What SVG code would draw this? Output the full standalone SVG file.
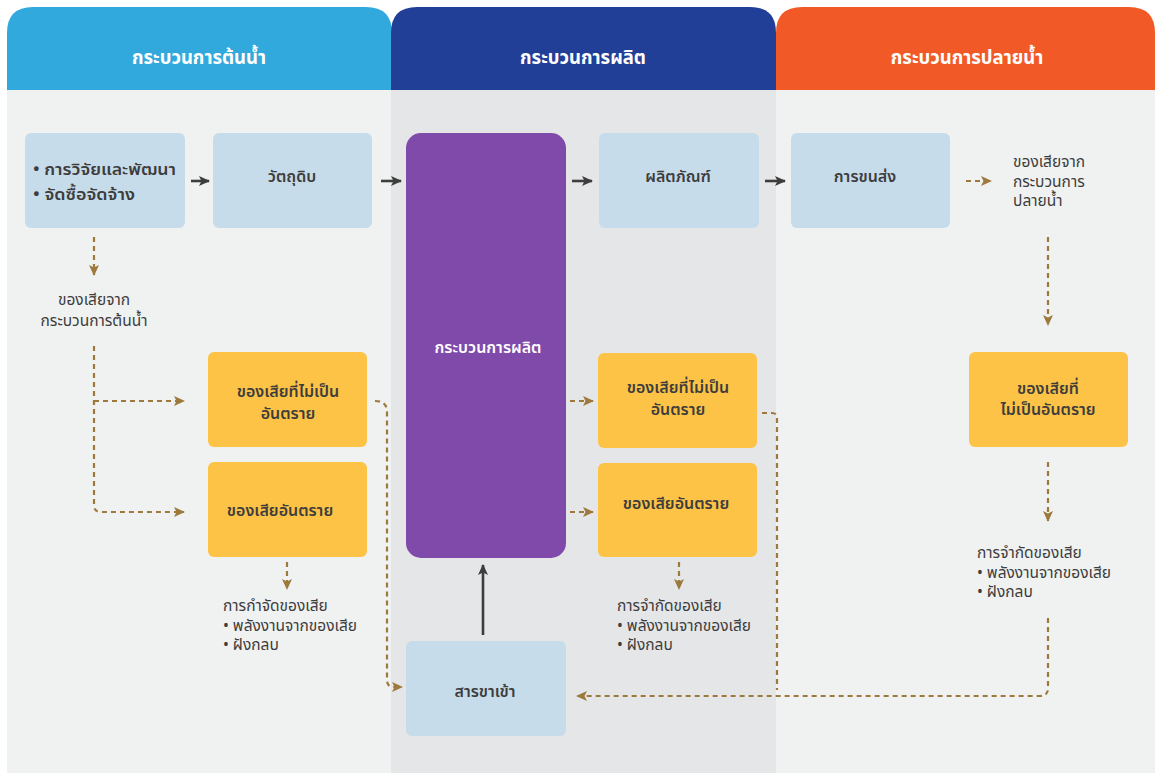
<svg xmlns="http://www.w3.org/2000/svg" width="1155" height="773" viewBox="0 0 1155 773">
<style>
text{font-family:"Noto Sans Thai","Noto Sans","DejaVu Sans",sans-serif;fill:#3d3d3d}
.hd{fill:#fff;font-size:18.5px;font-weight:700;text-anchor:middle}
.bx{font-size:16px;font-weight:600;text-anchor:middle}
.nt{font-size:15.5px;font-weight:400}
.ntc{font-size:15.5px;font-weight:400;text-anchor:middle}
.blue{fill:#c7dcea}
.yel{fill:#fdc346}
.dash{fill:none;stroke:#9d7a3c;stroke-width:2.2;stroke-dasharray:5 4}
.solid{fill:none;stroke:#3d3d3d;stroke-width:2.6}
</style>
<defs>
<marker id="ab" markerUnits="userSpaceOnUse" markerWidth="12" markerHeight="10" refX="10" refY="5" orient="auto">
<path d="M0,0 L11,5 L0,10 L2.5,5 z" fill="#9d7a3c"/>
</marker>
<marker id="ad" markerUnits="userSpaceOnUse" markerWidth="12" markerHeight="10" refX="10" refY="5" orient="auto">
<path d="M0,0 L11,5 L0,10 L2.5,5 z" fill="#3d3d3d"/>
</marker>
</defs>
<rect width="1155" height="773" fill="#ffffff"/>
<g id="columns">
<rect x="7" y="88" width="385" height="685" fill="#f0f1f1"/>
<rect x="776" y="88" width="379" height="685" fill="#f0f1f1"/>
<rect x="391" y="88" width="385" height="685" fill="#e5e6e8"/>
<path d="M7,90 V33 Q7,7 33,7 H366 Q392,7 392,33 V90 Z" fill="#31a9dd"/>
<path d="M776,90 V33 Q776,7 802,7 H1129 Q1155,7 1155,33 V90 Z" fill="#f15a27"/>
<path d="M391,90 V33 Q391,7 417,7 H750 Q776,7 776,33 V90 Z" fill="#223f98"/>
<text class="hd" x="199" y="64">กระบวนการต้นน้ำ</text>
<text class="hd" x="583" y="64">กระบวนการผลิต</text>
<text class="hd" x="967" y="64">กระบวนการปลายน้ำ</text>
</g>
<g id="connectors">
<path class="solid" d="M191,181 H209" marker-end="url(#ad)"/>
<path class="solid" d="M381,181 H401" marker-end="url(#ad)"/>
<path class="solid" d="M572,181 H592" marker-end="url(#ad)"/>
<path class="solid" d="M765,181 H785" marker-end="url(#ad)"/>
<path class="solid" d="M483,635 V565" marker-end="url(#ad)"/>
<path class="dash" d="M94,237 V275" marker-end="url(#ab)"/>
<path class="dash" d="M94,346 V505 Q94,512 101,512 H184" marker-end="url(#ab)"/>
<path class="dash" d="M94,401 H184" marker-end="url(#ab)"/>
<path class="dash" d="M287,562 V589" marker-end="url(#ab)"/>
<path class="dash" d="M375,401 Q387,401 387,412 V680 Q387,687 394,687 H402" marker-end="url(#ab)"/>
<path class="dash" d="M570,401 H593" marker-end="url(#ab)"/>
<path class="dash" d="M570,512 H593" marker-end="url(#ab)"/>
<path class="dash" d="M679,562 V589" marker-end="url(#ab)"/>
<path class="dash" d="M762,413 H772 Q777,413 777,418 V690"/>
<path class="dash" d="M966,181 H991" marker-end="url(#ab)"/>
<path class="dash" d="M1048,237 V325" marker-end="url(#ab)"/>
<path class="dash" d="M1048,462 V521" marker-end="url(#ab)"/>
<path class="dash" d="M1048,618 V688 Q1048,696 1040,696 H577" marker-end="url(#ab)"/>
</g>
<g id="n-rd">
<rect class="blue" x="25" y="133" width="160" height="95" rx="6"/>
<text class="bx" x="33" y="175" style="text-anchor:start" textLength="143" lengthAdjust="spacingAndGlyphs">• การวิจัยและพัฒนา</text>
<text class="bx" x="33" y="200" style="text-anchor:start" textLength="102" lengthAdjust="spacingAndGlyphs">• จัดซื้อจัดจ้าง</text>
</g>
<g id="n-raw">
<rect class="blue" x="213" y="133" width="159" height="95" rx="6"/>
<text class="bx" x="292" y="182">วัตถุดิบ</text>
</g>
<g id="n-up-waste-label">
<text class="ntc" x="94" y="305">ของเสียจาก</text>
<text class="ntc" x="94" y="326">กระบวนการต้นน้ำ</text>
</g>
<g id="n-up-nonhaz">
<rect class="yel" x="208" y="352" width="159" height="95" rx="6"/>
<text class="bx" x="288" y="397">ของเสียที่ไม่เป็น</text>
<text class="bx" x="288" y="419">อันตราย</text>
</g>
<g id="n-up-haz">
<rect class="yel" x="208" y="462" width="159" height="95" rx="6"/>
<text class="bx" x="280" y="516">ของเสียอันตราย</text>
</g>
<g id="n-up-disposal">
<text class="nt" x="223" y="611">การกำจัดของเสีย</text>
<text class="nt" x="223" y="631">• พลังงานจากของเสีย</text>
<text class="nt" x="223" y="650">• ฝังกลบ</text>
</g>
<g id="n-production">
<rect x="406" y="133" width="160" height="425" rx="15" fill="#7f4aa9"/>
<text class="bx" x="488" y="353" style="fill:#fff">กระบวนการผลิต</text>
</g>
<g id="n-input">
<rect class="blue" x="406" y="641" width="160" height="95" rx="6"/>
<text class="bx" x="485" y="697">สารขาเข้า</text>
</g>
<g id="n-product">
<rect class="blue" x="599" y="133" width="160" height="95" rx="6"/>
<text class="bx" x="678" y="182">ผลิตภัณฑ์</text>
</g>
<g id="n-mid-nonhaz">
<rect class="yel" x="598" y="353" width="159" height="95" rx="6"/>
<text class="bx" x="678" y="393">ของเสียที่ไม่เป็น</text>
<text class="bx" x="678" y="415">อันตราย</text>
</g>
<g id="n-mid-haz">
<rect class="yel" x="598" y="463" width="159" height="94" rx="6"/>
<text class="bx" x="676" y="509">ของเสียอันตราย</text>
</g>
<g id="n-mid-disposal">
<text class="nt" x="617" y="611">การจำกัดของเสีย</text>
<text class="nt" x="617" y="631">• พลังงานจากของเสีย</text>
<text class="nt" x="617" y="650">• ฝังกลบ</text>
</g>
<g id="n-transport">
<rect class="blue" x="791" y="133" width="159" height="95" rx="6"/>
<text class="bx" x="865" y="182">การขนส่ง</text>
</g>
<g id="n-down-waste-label">
<text class="nt" x="1013" y="167">ของเสียจาก</text>
<text class="nt" x="1013" y="187">กระบวนการ</text>
<text class="nt" x="1013" y="206">ปลายน้ำ</text>
</g>
<g id="n-down-nonhaz">
<rect class="yel" x="969" y="352" width="159" height="95" rx="6"/>
<text class="bx" x="1048" y="394">ของเสียที่</text>
<text class="bx" x="1048" y="415">ไม่เป็นอันตราย</text>
</g>
<g id="n-down-disposal">
<text class="nt" x="977" y="558">การจำกัดของเสีย</text>
<text class="nt" x="977" y="578">• พลังงานจากของเสีย</text>
<text class="nt" x="977" y="597">• ฝังกลบ</text>
</g>
</svg>
